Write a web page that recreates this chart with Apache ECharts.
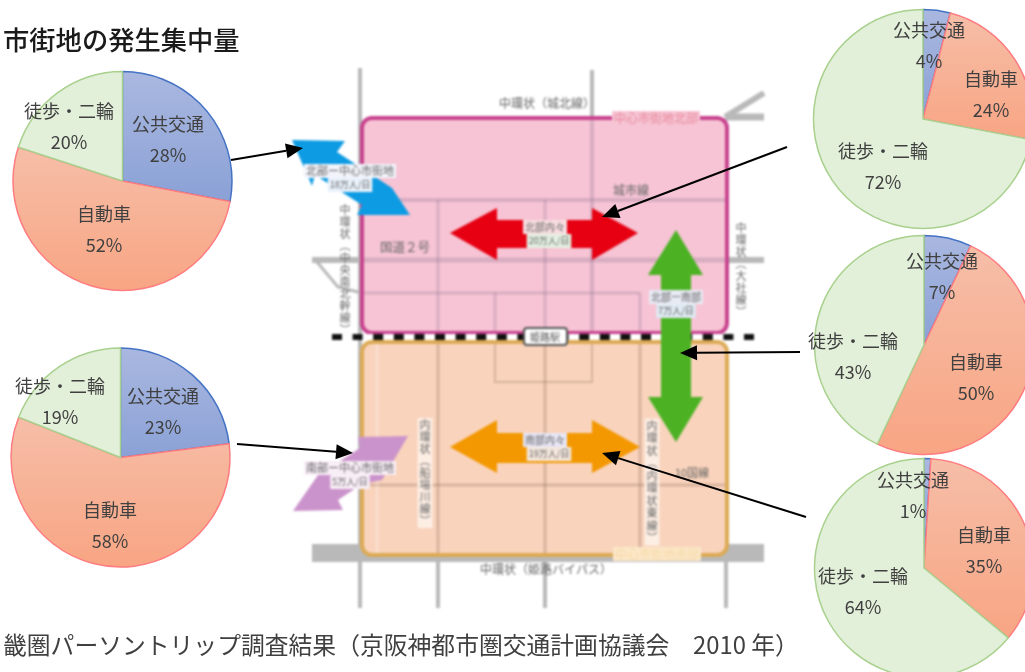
<!DOCTYPE html>
<html>
<head>
<meta charset="utf-8">
<title>市街地の発生集中量</title>
<style>
html, body { margin: 0; padding: 0; background: #fff; overflow: hidden; }
#map, #main { position: absolute; left: 0; top: 0; width: 1025px; height: 672px; }
/* the map in the source is a soft, low resolution picture */
#map { filter: blur(0.8px); }
</style>
<script src="https://cdn.jsdelivr.net/npm/echarts@6/dist/echarts.min.js"></script>
</head>
<body>
<div id="map"></div>
<div id="main"></div>
<script>
var categories = ['公共交通', '自動車', '徒歩・二輪'];

// one value per category, in % (top left, bottom left, then right column top to bottom)
var hokubuGaibu = [28, 52, 20];
var nanbuGaibu  = [23, 58, 19];
var hokubuNai   = [4, 24, 72];
var nanbokuKan  = [7, 50, 43];
var nanbuNai    = [1, 35, 64];

var titleText  = '市街地の発生集中量';
var sourceText = '畿圏パーソントリップ調査結果（京阪神都市圏交通計画協議会　2010 年）';

var FONT = '"Noto Sans CJK JP", sans-serif';

function vgrad(top, bottom) {
    return {
        type: 'linear', x: 0, y: 0, x2: 0, y2: 1,
        colorStops: [{offset: 0, color: top}, {offset: 1, color: bottom}]
    };
}

var sliceStyles = [
    {color: vgrad('#aab8e0', '#8aa1d6'), borderColor: '#4472c4', borderWidth: 1.5},
    {color: vgrad('#f6bea8', '#f8a583'), borderColor: '#ff7c80', borderWidth: 1.5},
    {color: '#e2efd9', borderColor: '#a9d18e', borderWidth: 1.5}
];

function makePie(values, center, labelPos) {
    return {
        type: 'pie',
        center: center,
        radius: 109.5,
        startAngle: 90,
        clockwise: true,
        silent: true,
        animation: false,
        data: categories.map(function(name, i) {
            return {name: name, value: values[i], itemStyle: sliceStyles[i]};
        }),
        labelLine: {show: false},
        label: {
            show: true,
            position: 'inside',
            formatter: '{b}\n{c}%',
            fontFamily: FONT,
            fontSize: 18,
            lineHeight: 31,
            color: '#404040',
            align: 'center',
            verticalAlign: 'middle'
        },
        labelLayout: function(params) {
            var p = labelPos[params.dataIndex];
            return {x: p[0], y: p[1], align: 'center', verticalAlign: 'middle'};
        }
    };
}

// black call-out arrows, from the pie to the flow on the map
function blackArrow(x1, y1, x2, y2) {
    var len = Math.sqrt((x2 - x1) * (x2 - x1) + (y2 - y1) * (y2 - y1));
    var ux = (x2 - x1) / len, uy = (y2 - y1) / len;
    var bx = x2 - ux * 17, by = y2 - uy * 17;
    return [
        {type: 'line', shape: {x1: x1, y1: y1, x2: bx, y2: by}, style: {stroke: '#000', lineWidth: 2}},
        {type: 'polygon', shape: {points: [[x2, y2], [bx - uy * 7.5, by + ux * 7.5], [bx + uy * 7.5, by - ux * 7.5]]}, style: {fill: '#000'}}
    ];
}

function poly(points, fill) {
    return {type: 'polygon', shape: {points: points}, style: {fill: fill}};
}

function road(points, color, width) {
    return {type: 'polyline', shape: {points: points}, style: {stroke: color, lineWidth: width, fill: null}};
}

function box(x, y, w, h, fill, stroke, lineWidth) {
    return {type: 'rect', shape: {x: x, y: y, width: w, height: h, r: 10}, style: {fill: fill, stroke: stroke, lineWidth: lineWidth}};
}

function mapText(text, x, y, opt) {
    opt = opt || {};
    return {
        type: 'text', x: x, y: y,
        style: {
            text: text,
            fontFamily: FONT,
            fontSize: opt.size || 11,
            lineHeight: opt.lineHeight || 12,
            fill: opt.color || '#666',
            align: 'center',
            verticalAlign: 'middle',
            backgroundColor: opt.bg,
            padding: opt.bg ? [1, 2] : 0
        }
    };
}

function vert(text) {
    return text.split('').join('\n');
}

var GRAY = '#b9b9b9', INNER_PINK = 'rgba(150,120,150,0.30)', INNER_ORANGE = 'rgba(140,110,90,0.30)';

var mapElements = [
    // roads outside the two zones
    road([[360, 68], [360, 608]], GRAY, 4),
    road([[592, 70], [592, 120]], GRAY, 4),
    road([[438, 555], [438, 608]], GRAY, 4),
    road([[545, 555], [545, 608]], GRAY, 4),
    road([[726, 555], [726, 608]], GRAY, 4),
    road([[312, 260], [764, 260]], GRAY, 6),
    road([[317, 262], [338, 287], [362, 293]], GRAY, 3),
    road([[725, 117], [764, 117]], GRAY, 7),
    road([[725, 117], [764, 93]], GRAY, 6),
    road([[312, 553], [764, 553]], GRAY, 18),

    // zones
    box(362, 118, 365, 215, '#f6c4d4', '#c8418e', 4),
    box(362, 342, 365, 213, '#f9d3bc', '#dcaa55', 4),

    // roads inside the north zone
    road([[364, 200], [725, 200]], INNER_PINK, 4),
    road([[364, 260], [725, 260]], INNER_PINK, 5),
    road([[364, 293], [640, 293]], INNER_PINK, 3),
    road([[438, 200], [438, 331]], INNER_PINK, 3),
    road([[495, 293], [495, 331]], INNER_PINK, 3),
    road([[545, 200], [545, 331]], INNER_PINK, 3),
    road([[592, 120], [592, 331]], INNER_PINK, 4),
    road([[640, 293], [640, 331]], INNER_PINK, 3),

    // roads inside the south zone
    road([[364, 485], [725, 485]], INNER_ORANGE, 3),
    road([[377, 344], [377, 553]], 'rgba(255,255,255,0.25)', 3),
    road([[438, 344], [438, 553]], INNER_ORANGE, 3),
    road([[545, 344], [545, 553]], INNER_ORANGE, 3),
    road([[640, 344], [640, 553]], INNER_ORANGE, 3),
    road([[495, 344], [495, 382], [592, 382], [592, 344]], INNER_ORANGE, 2),

    // flow arrows
    poly([[292, 140], [345, 141], [337, 152], [392, 188], [410, 215], [357, 215], [362, 205], [315, 175], [312, 186]], '#0d9be3'),
    poly([[408, 436], [358, 437], [360, 448], [318, 475], [293, 511], [343, 510], [338, 500], [362, 484], [382, 480]], '#cb93cb'),
    poly([[450, 233], [497, 208], [497, 220], [592, 220], [592, 208], [638, 233], [592, 260], [592, 248], [497, 248], [497, 260]], '#e60012'),
    poly([[450, 447], [497, 420], [497, 433], [592, 433], [592, 420], [640, 447], [592, 473], [592, 463], [497, 463], [497, 473]], '#f39800'),

    // railway
    road([[322, 337], [760, 337]], '#fff', 6),
    {type: 'line', shape: {x1: 332, y1: 337, x2: 760, y2: 337}, style: {stroke: '#111', lineWidth: 6, lineDash: [10, 10.6]}},
    {type: 'rect', shape: {x: 524, y: 328, width: 43, height: 17, r: 3}, style: {fill: '#fff', stroke: '#555', lineWidth: 2}},
    mapText('姫路駅', 545, 337, {size: 10, color: '#555'}),

    poly([[676, 230], [703, 275], [691, 275], [691, 397], [703, 397], [676, 442], [648, 397], [661, 397], [661, 275], [648, 275]], '#4cb224'),

    // labels, the source is too blurred to read these exactly
    mapText('中環状（城北線）', 547, 103, {size: 12}),
    mapText('中心市街地北部', 656, 118, {color: '#e8899a', bg: '#f6c4d4', size: 12}),
    mapText('城市線', 631, 190, {size: 12}),
    mapText('国道２号', 405, 247, {size: 12.5}),
    mapText(vert('中環状︵中央南北幹線︶'), 345, 270),
    mapText(vert('中環状︵大社線︶'), 741, 270),
    mapText(vert('内環状︵船場川線︶'), 425, 473, {bg: '#fdeee4'}),
    mapText(vert('内環状︵内環状東線︶'), 652, 482, {bg: '#fdeee4', lineHeight: 12.5}),
    mapText('10国線', 692, 473),
    mapText('中環状（姫路バイパス）', 546, 569, {size: 12}),
    mapText('中心市街地南部', 657, 554, {color: '#f6d9a8', bg: '#fbe7c8', size: 12}),
    mapText('北部ー中心市街地', 350, 171, {bg: '#f2f4fb', size: 11}),
    mapText('18万人/日', 350, 185, {bg: '#e9f1fb', size: 9}),
    mapText('南部ー中心市街地', 350, 468, {bg: '#f8eef6', size: 11}),
    mapText('5万人/日', 350, 482, {bg: '#f8eef6', size: 9}),
    mapText('北部内々', 545, 227, {bg: '#f8dde0', size: 10}),
    mapText('20万人/日', 549, 241, {bg: '#e3efe0', size: 9}),
    mapText('南部内々', 545, 440, {bg: '#e7e6f5', size: 10}),
    mapText('19万人/日', 549, 454, {bg: '#f3e6dc', size: 9}),
    mapText('北部ー南部', 676, 297, {bg: '#e8eaf4', size: 10}),
    mapText('7万人/日', 676, 311, {bg: '#dfeaf2', size: 9})
];

var topElements = [
    {
        type: 'text', x: 3, y: 40,
        style: {text: titleText, fontFamily: FONT, fontSize: 26.3, fontWeight: 500, fill: '#1a1a1a', align: 'left', verticalAlign: 'middle'}
    },
    {
        type: 'text', x: 3, y: 645,
        style: {text: sourceText, fontFamily: FONT, fontSize: 23.8, fill: '#404040', align: 'left', verticalAlign: 'middle'}
    }
].concat(
    blackArrow(231, 160, 303, 148),
    blackArrow(787, 147, 602, 217),
    blackArrow(800, 352, 680, 353),
    blackArrow(806, 517, 602, 453),
    blackArrow(237, 444, 353, 453)
);

var mapChart = echarts.init(document.getElementById('map'));
mapChart.setOption({animation: false, graphic: {elements: mapElements}});

var chart = echarts.init(document.getElementById('main'));
chart.setOption({
    animation: false,
    series: [
        makePie(hokubuGaibu, [122.5, 181], [[168, 140], [104, 230], [69, 127]]),
        makePie(nanbuGaibu, [120.5, 457.5], [[163, 412], [110, 526], [60, 402]]),
        makePie(hokubuNai, [923, 119], [[929, 46], [991, 95], [883, 167]]),
        makePie(nanbokuKan, [924, 345], [[942, 277], [976, 378], [853, 357]]),
        makePie(nanbuNai, [924, 568], [[913, 496], [984, 551], [863, 592]])
    ],
    graphic: {elements: topElements}
});
</script>
</body>
</html>
